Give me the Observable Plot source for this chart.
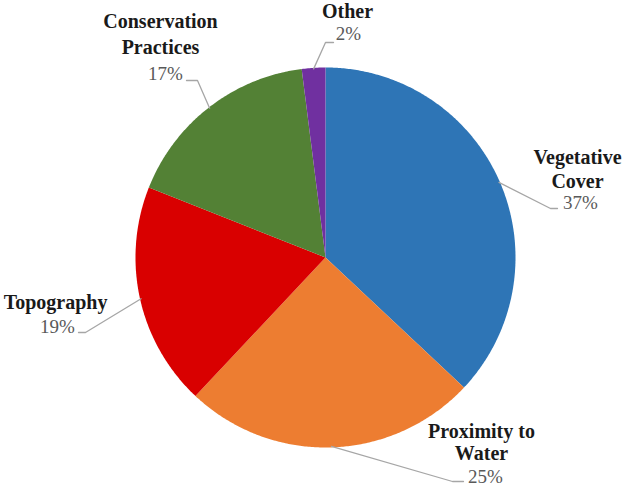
<!DOCTYPE html>
<html>
<head>
<meta charset="utf-8">
<script src="https://cdn.jsdelivr.net/npm/d3@7"></script>
<script src="https://cdn.jsdelivr.net/npm/@observablehq/plot@0.6"></script>
<style>
  html, body { margin: 0; padding: 0; background: #fff; }
  #chart svg { display: block; }
</style>
</head>
<body>
<div id="chart"></div>
<script>
// ---- data ----
const categories = ["Vegetative Cover", "Proximity to Water", "Topography", "Conservation Practices", "Other"];
const shares = [37, 25, 19, 17, 2];
const nameLines = [["Vegetative", "Cover"], ["Proximity to", "Water"], ["Topography"], ["Conservation", "Practices"], ["Other"]];
const colors = ["#2E75B6", "#ED7D31", "#D90000", "#538135", "#7030A0"];

// ---- layout (pixel space) ----
const W = 626, H = 487;
const pie = {cx: 325, cy: 257, r: 190};
const labelLayout = [
  {nameX: 577, nameY: 157, gap: 24, pctX: 580, pctY: 202, elbow: [550, 208], end: [557, 208]},
  {nameX: 481, nameY: 431, gap: 22, pctX: 485, pctY: 476, elbow: [452, 481], end: [463, 481]},
  {nameX: 55,  nameY: 302, gap: 24, pctX: 57,  pctY: 326, elbow: [85, 332],  end: [78, 332]},
  {nameX: 160, nameY: 21,  gap: 26, pctX: 165, pctY: 73,  elbow: [197, 80],  end: [186, 80]},
  {nameX: 347, nameY: 11,  gap: 24, pctX: 348, pctY: 33,  elbow: [325, 42],  end: [333, 42]}
];

const total = d3.sum(shares);
const toXY = (frac, rad) => {
  const a = frac * 2 * Math.PI;
  return [pie.cx + rad * Math.sin(a), pie.cy - rad * Math.cos(a)];
};

// slice polygons
const slicePts = [];
const leaderPts = [];
const nameRows = [];
const pctRows = [];
let cum = 0;
categories.forEach((cat, i) => {
  const f0 = cum / total, f1 = (cum + shares[i]) / total;
  cum += shares[i];
  slicePts.push({cat, x: pie.cx, y: pie.cy});
  const n = Math.max(2, Math.ceil((f1 - f0) * 720));
  for (let k = 0; k <= n; k++) {
    const [x, y] = toXY(f0 + (f1 - f0) * k / n, pie.r);
    slicePts.push({cat, x, y});
  }
  slicePts.push({cat, x: pie.cx, y: pie.cy});
  const L = labelLayout[i];
  const [sx, sy] = toXY((f0 + f1) / 2, pie.r - 1);
  leaderPts.push({cat, x: sx, y: sy}, {cat, x: L.elbow[0], y: L.elbow[1]}, {cat, x: L.end[0], y: L.end[1]});
  nameLines[i].forEach((t, j) => nameRows.push({x: L.nameX, y: L.nameY + j * L.gap, text: t}));
  pctRows.push({x: L.pctX, y: L.pctY, text: shares[i] + "%"});
});

const chart = Plot.plot({
  width: W,
  height: H,
  margin: 0,
  style: {background: "#fff", overflow: "visible"},
  x: {domain: [0, W], range: [0, W], axis: null},
  y: {domain: [0, H], range: [0, H], axis: null},
  color: {type: "ordinal", domain: categories, range: colors},
  marks: [
    Plot.line(slicePts, {x: "x", y: "y", z: "cat", fill: "cat", stroke: "none", curve: "linear"}),
    Plot.line(leaderPts, {x: "x", y: "y", z: "cat", stroke: "#a6a6a6", strokeWidth: 1.3, curve: "linear"}),
    Plot.text(nameRows, {x: "x", y: "y", text: "text", fontFamily: "Liberation Serif", fontWeight: "bold", fontSize: 20, fill: "#1a1a1a", textAnchor: "middle", lineAnchor: "middle"}),
    Plot.text(pctRows, {x: "x", y: "y", text: "text", fontFamily: "Liberation Serif", fontSize: 19, fill: "#595959", textAnchor: "middle", lineAnchor: "middle"})
  ]
});
document.getElementById("chart").appendChild(chart);
</script>
</body>
</html>
